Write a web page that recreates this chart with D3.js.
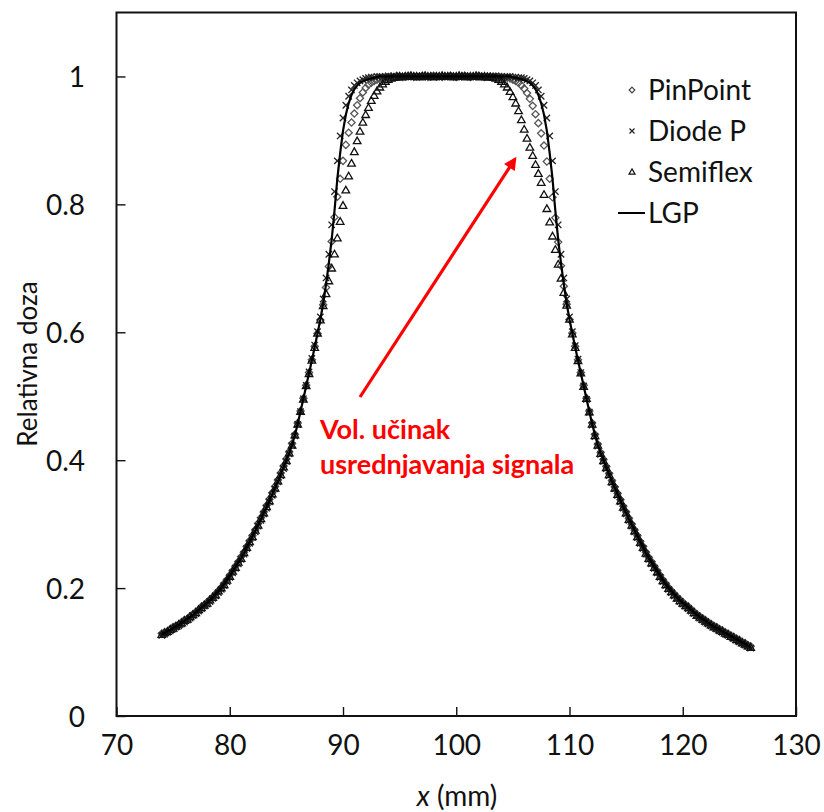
<!DOCTYPE html>
<html><head><meta charset="utf-8">
<script src="https://cdn.jsdelivr.net/npm/d3@7"></script>
<style>body{margin:0;background:#fff}svg{display:block}text{font-family:Lato,"Noto Sans",sans-serif;fill:#111}</style>
</head><body>
<svg id="c" width="824" height="812"></svg>
<script>
const xMM = [74,74.25,74.5,74.75,75,75.25,75.5,75.75,76,76.25,76.5,76.75,77,77.25,77.5,77.75,78,78.25,78.5,78.75,
79,79.25,79.5,79.75,80,80.25,80.5,80.75,81,81.25,81.5,81.75,82,82.25,82.5,82.75,83,83.25,83.5,83.75,
84,84.25,84.5,84.75,85,85.25,85.5,85.75,86,86.25,86.5,86.75,87,87.25,87.5,87.75,88,88.25,88.5,88.75,
89,89.25,89.5,89.75,90,90.25,90.5,90.75,91,91.25,91.5,91.75,92,92.25,92.5,92.75,93,93.25,93.5,93.75,
94,94.25,94.5,94.75,95,95.25,95.5,95.75,96,96.25,96.5,96.75,97,97.25,97.5,97.75,98,98.25,98.5,98.75,
99,99.25,99.5,99.75,100,100.25,100.5,100.75,101,101.25,101.5,101.75,102,102.25,102.5,102.75,103,103.25,103.5,103.75,
104,104.25,104.5,104.75,105,105.25,105.5,105.75,106,106.25,106.5,106.75,107,107.25,107.5,107.75,108,108.25,108.5,108.75,
109,109.25,109.5,109.75,110,110.25,110.5,110.75,111,111.25,111.5,111.75,112,112.25,112.5,112.75,113,113.25,113.5,113.75,
114,114.25,114.5,114.75,115,115.25,115.5,115.75,116,116.25,116.5,116.75,117,117.25,117.5,117.75,118,118.25,118.5,118.75,
119,119.25,119.5,119.75,120,120.25,120.5,120.75,121,121.25,121.5,121.75,122,122.25,122.5,122.75,123,123.25,123.5,123.75,
124,124.25,124.5,124.75,125,125.25,125.5,125.75,126];

const pinPoint = [0.129,0.131,0.132,0.136,0.139,0.141,0.143,0.147,0.150,0.152,
0.156,0.159,0.163,0.166,0.171,0.174,0.178,0.182,0.186,0.191,
0.196,0.201,0.207,0.213,0.220,0.227,0.234,0.241,0.249,0.256,
0.265,0.274,0.282,0.291,0.301,0.310,0.319,0.329,0.339,0.349,
0.359,0.369,0.380,0.391,0.402,0.413,0.426,0.440,0.458,0.477,
0.497,0.517,0.537,0.557,0.578,0.598,0.619,0.643,0.670,0.703,
0.742,0.780,0.812,0.840,0.868,0.893,0.912,0.928,0.942,0.955,
0.966,0.975,0.982,0.987,0.990,0.993,0.995,
0.997,0.998,0.999,0.999,1.000,0.999,1.001,1.000,0.999,1.000,1.001,1.000,0.999,1.000,1.000,1.001,1.000,0.999,1.000,1.001,1.000,1.000,0.999,1.000,
1.000,1.001,1.000,0.999,1.000,1.000,1.001,1.000,0.999,1.000,1.000,1.001,1.000,0.999,1.000,1.000,0.999,1.000,0.999,0.999,0.998,0.998,0.997,
0.995,0.993,0.990,0.986,0.981,0.974,0.965,
0.954,0.941,0.927,0.911,0.892,0.867,0.840,0.811,0.779,0.741,
0.704,0.672,0.644,0.620,0.599,0.578,0.557,0.537,0.517,0.497,
0.477,0.458,0.440,0.425,0.412,0.401,0.390,0.379,0.368,0.358,
0.348,0.338,0.328,0.319,0.309,0.300,0.291,0.282,0.273,0.265,
0.256,0.248,0.241,0.234,0.227,0.220,0.213,0.207,0.201,0.196,
0.191,0.186,0.182,0.178,0.174,0.171,0.167,0.163,0.159,0.156,
0.153,0.150,0.147,0.144,0.141,0.139,0.136,0.134,0.131,0.129,
0.126,0.124,0.121,0.119,0.116,0.114,0.111,0.109];

const diodeP = [0.126,0.128,0.131,0.133,0.136,0.139,0.141,0.144,0.147,0.150,
0.153,0.157,0.160,0.164,0.168,0.172,0.175,0.179,0.184,0.188,
0.193,0.198,0.204,0.210,0.217,0.224,0.231,0.238,0.245,0.253,
0.262,0.270,0.279,0.288,0.297,0.306,0.316,0.325,0.335,0.345,
0.355,0.366,0.376,0.387,0.398,0.410,0.423,0.438,0.456,0.476,
0.496,0.517,0.538,0.559,0.580,0.601,0.624,0.652,0.685,0.722,
0.768,0.820,0.868,0.907,0.935,0.955,0.969,0.979,0.986,0.990,
0.993,0.995,0.997,0.998,0.999,0.999,1.000,
1.000,0.999,1.000,1.001,1.000,1.000,0.999,1.000,1.001,1.000,1.000,0.999,1.000,1.001,1.000,1.000,1.000,0.999,1.000,1.001,1.000,0.999,1.000,1.000,
1.000,1.001,1.000,1.000,0.999,1.000,1.001,1.000,1.000,0.999,1.000,1.000,1.001,1.000,0.999,1.000,1.000,1.001,1.000,1.000,0.999,1.000,1.000,
0.999,0.999,0.998,0.998,0.997,0.995,0.993,
0.990,0.986,0.979,0.969,0.955,0.935,0.907,0.868,0.820,0.768,
0.722,0.685,0.652,0.624,0.601,0.579,0.558,0.537,0.516,0.495,
0.475,0.455,0.437,0.422,0.409,0.398,0.387,0.376,0.365,0.355,
0.345,0.335,0.325,0.316,0.306,0.297,0.288,0.279,0.270,0.262,
0.253,0.245,0.238,0.231,0.224,0.217,0.210,0.204,0.198,0.193,
0.188,0.184,0.179,0.175,0.172,0.168,0.164,0.160,0.157,0.153,
0.150,0.147,0.144,0.141,0.139,0.136,0.133,0.131,0.128,0.126,
0.124,0.121,0.119,0.116,0.114,0.111,0.109,0.106];

const semiflex = [0.127,0.130,0.132,0.135,0.137,0.140,0.143,0.145,0.149,0.151,
0.155,0.158,0.161,0.166,0.169,0.173,0.176,0.181,0.185,0.189,
0.195,0.200,0.205,0.212,0.218,0.226,0.232,0.240,0.246,0.255,
0.263,0.272,0.280,0.290,0.298,0.308,0.317,0.327,0.336,0.347,
0.356,0.367,0.377,0.389,0.399,0.411,0.423,0.439,0.456,0.476,
0.495,0.516,0.535,0.556,0.576,0.598,0.619,0.641,0.660,0.680,
0.700,0.722,0.747,0.773,0.798,0.822,0.844,0.864,0.882,0.899,
0.914,0.928,0.940,0.951,0.962,0.970,0.977,
0.983,0.988,0.992,0.995,0.997,0.998,0.999,1.000,0.999,1.000,1.000,1.001,1.000,1.000,0.999,1.000,1.001,1.000,1.000,0.999,1.000,1.000,1.001,1.000,
1.000,1.000,0.999,1.000,1.001,1.000,1.000,0.999,1.000,1.000,1.001,1.000,0.999,1.000,0.999,
0.999,0.998,0.997,0.995,0.992,0.988,0.983,0.976,
0.968,0.958,0.946,0.932,0.917,0.903,0.889,
0.876,0.862,0.848,0.834,0.815,0.793,0.772,0.750,0.729,0.706,
0.684,0.662,0.642,0.620,0.597,0.576,0.555,0.536,0.515,0.496,
0.475,0.456,0.438,0.423,0.410,0.399,0.388,0.377,0.366,0.356,
0.346,0.336,0.326,0.317,0.307,0.298,0.289,0.280,0.271,0.263,
0.254,0.246,0.239,0.232,0.225,0.218,0.211,0.205,0.199,0.194,
0.189,0.184,0.180,0.176,0.172,0.169,0.165,0.161,0.157,0.154,
0.151,0.148,0.145,0.142,0.139,0.137,0.134,0.132,0.129,0.127,
0.124,0.122,0.119,0.117,0.114,0.112,0.109,0.107];

const lgp = [0.128,0.130,0.133,0.135,0.138,0.140,0.143,0.146,0.149,0.152,
0.155,0.158,0.162,0.166,0.170,0.173,0.177,0.181,0.185,0.190,
0.195,0.200,0.206,0.212,0.219,0.226,0.233,0.240,0.247,0.255,
0.264,0.272,0.281,0.290,0.299,0.308,0.318,0.327,0.337,0.347,
0.357,0.367,0.378,0.389,0.400,0.411,0.424,0.439,0.457,0.476,
0.496,0.516,0.536,0.556,0.577,0.598,0.620,0.645,0.675,0.708,
0.745,0.790,0.840,0.880,0.915,0.940,0.958,0.971,0.980,0.986,
0.990,0.992,0.994,0.996,0.997,0.998,0.999,
1,1,1,1,1,1,1,1,1,1,1,1,1,1,1,1,1,1,1,1,1,1,1,1,
1,1,1,1,1,1,1,1,1,1,1,1,1,1,1,1,1,1,1,1,1,1,1,
0.999,0.998,0.997,0.996,0.994,0.992,0.990,
0.986,0.980,0.971,0.958,0.940,0.915,0.880,0.840,0.790,0.745,
0.708,0.675,0.645,0.620,0.598,0.577,0.556,0.536,0.516,0.496,
0.476,0.457,0.439,0.424,0.411,0.400,0.389,0.378,0.367,0.357,
0.347,0.337,0.327,0.318,0.308,0.299,0.290,0.281,0.272,0.264,
0.255,0.247,0.240,0.233,0.226,0.219,0.212,0.206,0.200,0.195,
0.190,0.185,0.181,0.177,0.173,0.170,0.166,0.162,0.158,0.155,
0.152,0.149,0.146,0.143,0.140,0.138,0.135,0.133,0.130,0.128,
0.125,0.123,0.120,0.118,0.115,0.113,0.110,0.108];

const xTicks = [70,80,90,100,110,120,130];
const yTicks = [0,0.2,0.4,0.6,0.8,1];
const seriesNames = ["PinPoint","Diode P","Semiflex","LGP"];
const xTitle = "(mm)";
const yTitle = "Relativna doza";
const noteLines = ["Vol. učinak","usrednjavanja signala"];

const svg = d3.select("#c");
const L = 116.5, R = 796, T = 12.5, B = 716;
const x = d3.scaleLinear().domain([70,130]).range([L,R]);
const y = d3.scaleLinear().domain([0,1.1]).range([B,T]);

[pinPoint,diodeP,semiflex,lgp].forEach((a,i)=>{ if(a.length!==xMM.length) svg.append("text").attr("x",200).attr("y",300+i*30).style("fill","blue").text(seriesNames[i]+" len "+a.length+" vs "+xMM.length); });

// axes
const xAxis = d3.axisBottom(x).tickValues(xTicks).tickSizeInner(-9).tickSizeOuter(0).tickFormat(d3.format("d"));
const gx = svg.append("g").attr("transform",`translate(0,${B})`).call(xAxis);
gx.select(".domain").remove();
gx.selectAll(".tick line").attr("stroke","#111").attr("stroke-width",1.4);
gx.selectAll(".tick text").attr("y",39).attr("dy",null).style("font-size","28px").style("font-family","Lato").attr("fill","#111");

const yAxis = d3.axisLeft(y).tickValues(yTicks).tickSizeInner(-9).tickSizeOuter(0).tickFormat(d => d===0?"0":(d===1?"1":d3.format(".1f")(d)));
const gy = svg.append("g").attr("transform",`translate(${L},0)`).call(yAxis);
gy.select(".domain").remove();
gy.selectAll(".tick line").attr("stroke","#111").attr("stroke-width",1.4);
gy.selectAll(".tick text").attr("x",-31.5).attr("dy","0.36em").style("font-size","28px").style("font-family","Lato").attr("fill","#111");

svg.append("rect").attr("x",L).attr("y",T).attr("width",R-L).attr("height",B-T)
  .attr("fill","none").attr("stroke","#111").attr("stroke-width",2);

// marker shapes
const diamond = r => `M0,${-r}L${r},0L0,${r}L${-r},0Z`;
const cross = r => `M${-r},${-r}L${r},${r}M${-r},${r}L${r},${-r}`;
const tri = r => `M0,${-r*1.05}L${r},${r*0.7}L${-r},${r*0.7}Z`;

const plot = svg.append("g");
const pts = (arr) => xMM.map((xv,i)=>({x:xv,v:arr[i]}));

plot.append("g").selectAll("path").data(pts(pinPoint)).join("path")
  .attr("transform",d=>`translate(${x(d.x)},${y(d.v)})`).attr("d",diamond(3.6))
  .attr("fill","none").attr("stroke","#555").attr("stroke-width",1.3);
plot.append("g").selectAll("path").data(pts(diodeP)).join("path")
  .attr("transform",d=>`translate(${x(d.x)},${y(d.v)})`).attr("d",cross(3.2))
  .attr("fill","none").attr("stroke","#222").attr("stroke-width",1.3);
plot.append("g").selectAll("path").data(pts(semiflex)).join("path")
  .attr("transform",d=>`translate(${x(d.x)},${y(d.v)})`).attr("d",tri(3.8))
  .attr("fill","none").attr("stroke","#111").attr("stroke-width",1.3);
plot.append("path").datum(pts(lgp))
  .attr("d",d3.line().x(d=>x(d.x)).y(d=>y(d.v)))
  .attr("fill","none").attr("stroke","#000").attr("stroke-width",2.2);

// legend
const lg = svg.append("g");
const legY = [90,131,172,213];
lg.append("path").attr("transform",`translate(632,${legY[0]})`).attr("d",diamond(2.8)).attr("fill","none").attr("stroke","#444").attr("stroke-width",1.2);
lg.append("path").attr("transform",`translate(632,${legY[1]})`).attr("d",cross(2.5)).attr("fill","none").attr("stroke","#222").attr("stroke-width",1.2);
lg.append("path").attr("transform",`translate(632,${legY[2]})`).attr("d",tri(3)).attr("fill","none").attr("stroke","#111").attr("stroke-width",1.2);
lg.append("line").attr("x1",618).attr("x2",645).attr("y1",legY[3]).attr("y2",legY[3]).attr("stroke","#000").attr("stroke-width",2);
lg.selectAll("text").data(seriesNames).join("text")
  .attr("x",648).attr("y",(d,i)=>legY[i]+10).style("font-size","28px").text(d=>d);

// axis titles
const xt = svg.append("text").attr("x",457).attr("y",806).attr("text-anchor","middle").style("font-size","28px");
xt.append("tspan").style("font-style","italic").text("x");
xt.append("tspan").text(" " + xTitle);
svg.append("text").attr("transform","translate(37,364) rotate(-90)").attr("text-anchor","middle").style("font-size","26px").text(yTitle);

// annotation
const defs = svg.append("defs");
defs.append("marker").attr("id","ah").attr("viewBox","0 0 10 10").attr("refX",8).attr("refY",5)
  .attr("markerWidth",4.2).attr("markerHeight",4).attr("orient","auto")
  .append("path").attr("d","M0,0L10,5L0,10Z").attr("fill","#ff0000");
svg.append("line").attr("x1",360).attr("y1",397).attr("x2",515).attr("y2",159)
  .attr("stroke","#ff0000").attr("stroke-width",3.2).attr("marker-end","url(#ah)");
svg.selectAll("text.note").data(noteLines).join("text").attr("class","note")
  .attr("x",320).attr("y",(d,i)=>439+i*35).style("font-size","27px").style("font-weight","bold").style("fill","#ff0000").text(d=>d);
</script>
</body></html>
